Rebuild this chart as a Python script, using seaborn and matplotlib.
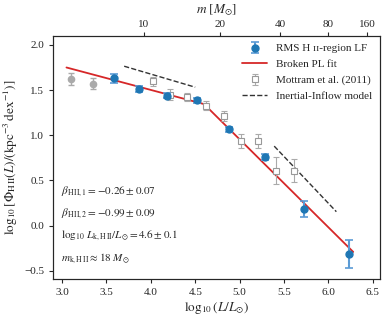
import seaborn as sns
import matplotlib.pyplot as plt
from matplotlib.lines import Line2D
import pandas as pd

# RMS HII-region luminosity function
rms_logL = [3.59, 3.87, 4.18, 4.515, 4.88, 5.29, 5.73, 6.23]
rms_phi = [1.632, 1.51, 1.44, 1.385, 1.067, 0.758, 0.185, -0.31]
rms_err = [0.05, 0.035, 0.03, 0.025, 0.03, 0.03, 0.09, 0.155]

# low-luminosity RMS bins, shown in grey
low_logL = [3.105, 3.345]
low_phi = [1.624, 1.57]
low_err = [0.07, 0.06]

# Mottram et al. (2011)
mot_logL = [4.02, 4.22, 4.41, 4.62, 4.82, 5.02, 5.21, 5.41, 5.61]
mot_phi = [1.595, 1.45, 1.425, 1.325, 1.215, 0.935, 0.935, 0.61, 0.61]
mot_err = [0.045, 0.06, 0.045, 0.05, 0.055, 0.08, 0.08, 0.15, 0.13]

# broken power-law fit
fit_logL = [3.05, 4.6, 6.28]
fit_phi = [1.75, 1.345, -0.29]

# inertial-inflow model segments
ii1_logL = [3.70, 4.50]
ii1_phi = [1.764, 1.532]
ii2_logL = [5.39, 6.09]
ii2_phi = [0.88, 0.155]

# top axis: stellar mass ticks
mass_labels = ["10", "20", "40", "80", "160"]
mass_logL = [3.92, 4.78, 5.46, 6.0, 6.44]

notes = [r"$\beta_{\rm H\,II,1} = -0.26 \pm 0.07$",
         r"$\beta_{\rm H\,II,2} = -0.99 \pm 0.09$",
         r"$\log_{10}\, L_{\rm k,H\,II}/L_{\odot} = 4.6 \pm 0.1$",
         r"$m_{\rm k,H\,II} \approx 18\ M_{\odot}$"]

sns.set_style("ticks")
plt.rcParams["font.family"] = ["Liberation Serif", "DejaVu Serif"]
plt.rcParams["mathtext.fontset"] = "stix"
plt.rcParams["font.size"] = 8
plt.rcParams["axes.linewidth"] = 0.8
plt.rcParams["xtick.major.size"] = 3
plt.rcParams["ytick.major.size"] = 3

blue = "#1f77b4"
red = "#d62728"
grey = "#aaaaaa"

fig = plt.figure(figsize=(3.88, 3.2), dpi=100)
ax = fig.add_axes([0.137, 0.128, 0.842, 0.76])

fit = pd.DataFrame({"x": fit_logL, "y": fit_phi})
sns.lineplot(data=fit, x="x", y="y", color=red, lw=1.3, ax=ax, zorder=2)
for xs, ys in [(ii1_logL, ii1_phi), (ii2_logL, ii2_phi)]:
    sns.lineplot(x=xs, y=ys, color="#333333", lw=1.0, ls="--", ax=ax)

ax.errorbar(low_logL, low_phi, yerr=low_err, fmt="o", ms=4.5, color=grey,
            ecolor=grey, elinewidth=1, capsize=2.5, zorder=3)
mot = ax.errorbar(mot_logL, mot_phi, yerr=mot_err, fmt="s", ms=5, mfc="white",
                  mec="#999999", mew=0.8, ecolor=grey, elinewidth=0.8,
                  capsize=2.5, zorder=3)
rms = ax.errorbar(rms_logL, rms_phi, yerr=rms_err, fmt="o", ms=5, color=blue,
                  ecolor="#5b9bd5", elinewidth=1.5, capsize=3, capthick=1.2,
                  zorder=4)

ax.set_xlim(2.9, 6.58)
ax.set_ylim(-0.59, 2.1)
ax.set_xticks([3.0, 3.5, 4.0, 4.5, 5.0, 5.5, 6.0, 6.5])
ax.set_yticks([-0.5, 0.0, 0.5, 1.0, 1.5, 2.0])
ax.set_xlabel(r"$\log_{10}(L/L_{\odot})$", fontsize=9.5, labelpad=2)
ax.set_ylabel(r"$\log_{10}[\Phi_{\rm H\,II}(L)/({\rm kpc^{-3}\,dex^{-1}})]$",
              fontsize=9.5, labelpad=3)

top = ax.twiny()
top.set_xlim(ax.get_xlim())
top.set_xticks(mass_logL)
top.set_xticklabels(mass_labels)
top.tick_params(axis="x", pad=2)
top.set_xlabel(r"$m\ [M_{\odot}]$", fontsize=9.5, labelpad=5)

for i, s in enumerate(notes):
    ax.text(0.025, [0.359, 0.267, 0.179, 0.084][i], s, transform=ax.transAxes,
            va="center", ha="left", fontsize=8)

handles = [rms, Line2D([], [], color=red, lw=1.3), mot,
           Line2D([], [], color="#333333", lw=1.0, ls="--")]
labels = ["RMS H \u026a\u026a-region LF", "Broken PL fit",
          "Mottram et al. (2011)", "Inertial-Inflow model"]
ax.legend(handles, labels, loc="upper right", frameon=False, fontsize=8,
          handlelength=2.2, labelspacing=0.55, borderaxespad=0.3)

plt.savefig("out.png", dpi=100)
